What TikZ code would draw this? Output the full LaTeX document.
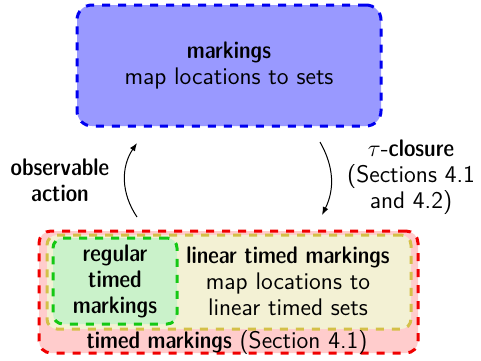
\documentclass[tikz,border=0pt]{standalone}
\usetikzlibrary{arrows.meta}
\definecolor{topfill}{RGB}{153,153,255}
\definecolor{topline}{RGB}{0,0,240}
\definecolor{redfill}{RGB}{255,204,204}
\definecolor{redline}{RGB}{240,0,0}
\definecolor{yelfill}{RGB}{243,241,212}
\definecolor{yelline}{RGB}{212,192,72}
\definecolor{grnfill}{RGB}{202,242,202}
\definecolor{grnline}{RGB}{20,200,20}
\newcommand{\bsf}[1]{{\fontseries{sbc}\selectfont #1}}
\tikzset{
  txt/.style={font=\sffamily\fontsize{12}{13}\selectfont, align=center},
  box/.style={rectangle, line width=1.5pt, dash pattern=on 4pt off 4pt, inner sep=0pt, txt},
  lbl/.style={txt, inner sep=0pt},
  arr/.style={-{Latex[length=4pt,width=3pt]}, line width=0.5pt},
}
\begin{document}
\begin{tikzpicture}[x=0.5pt,y=-0.5pt]
\useasboundingbox (0,0) rectangle (481,360);
\node[box, draw=topline, fill=topfill, rounded corners=7.5pt, minimum width=152pt, minimum height=60.5pt] (top) at (229,65.5) {\bsf{markings}\\map locations to sets};
\node[box, draw=redline, fill=redfill, rounded corners=6pt, minimum width=189.5pt, minimum height=61pt] (red) at (228.5,292) {};
\node[box, draw=yelline, fill=yelfill, rounded corners=5pt, minimum width=182pt, minimum height=47pt] (yel) at (229,282) {};
\node[box, draw=grnline, fill=grnfill, rounded corners=5pt, minimum width=62pt, minimum height=43pt] (grn) at (115,281) {\bsf{regular}\\\bsf{timed}\\\bsf{markings}};
\node[lbl] (lin) at (288,281) {\bsf{linear timed markings}\\map locations to\\linear timed sets};
\node[lbl, anchor=base] (tm) at (227,348) {\bsf{timed markings} (Section 4.1)};
\coordinate (la) at (137,217);
\coordinate (lb) at (137,143);
\coordinate (ra) at (320,142);
\coordinate (rb) at (322,215);
\draw[arr] (la) to[bend left=34] (lb);
\draw[arr] (ra) to[bend left=28] (rb);
\node[lbl] (obs) at (60,180) {\bsf{observable}\\\bsf{action}};
\node[lbl] (tau) at (411,177) {$\tau$-\bsf{closure}\\(Sections 4.1\\and 4.2)};
\end{tikzpicture}
\end{document}
